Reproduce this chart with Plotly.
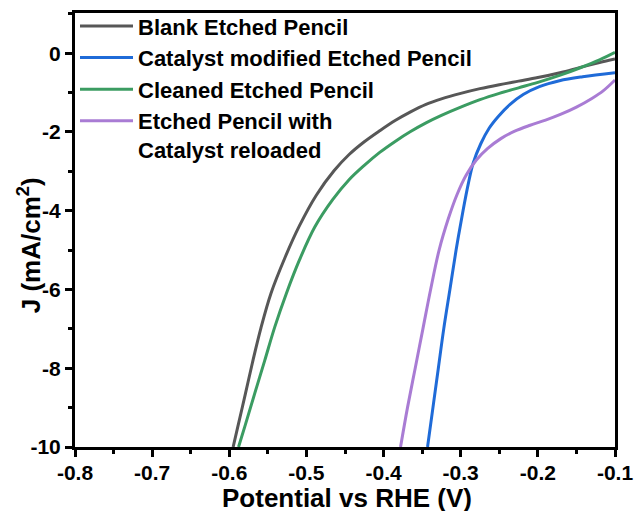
import plotly.graph_objects as go

# ---- data ----
blank_v = [-0.595, -0.589, -0.579, -0.570, -0.559, -0.546, -0.528, -0.509, -0.487, -0.464,
           -0.445, -0.425, -0.405, -0.385, -0.365, -0.345, -0.325, -0.300, -0.275, -0.250,
           -0.225, -0.200, -0.170, -0.145, -0.120, -0.100]
blank_j = [-10.0, -9.49, -8.64, -7.86, -6.98, -6.10, -5.20, -4.38, -3.60, -2.98,
           -2.58, -2.25, -1.97, -1.71, -1.49, -1.30, -1.16, -1.02, -0.90, -0.80,
           -0.71, -0.62, -0.49, -0.36, -0.24, -0.15]

cat_v = [-0.343, -0.336, -0.329, -0.322, -0.314, -0.306, -0.297, -0.290, -0.284, -0.274,
         -0.263, -0.251, -0.236, -0.219, -0.198, -0.172, -0.142, -0.100]
cat_j = [-10.0, -9.0, -8.0, -7.0, -6.0, -5.0, -4.0, -3.3, -2.8, -2.3,
         -1.9, -1.6, -1.3, -1.05, -0.85, -0.70, -0.60, -0.50]

clean_v = [-0.588, -0.580, -0.567, -0.554, -0.541, -0.526, -0.509, -0.489, -0.466, -0.445,
           -0.425, -0.405, -0.385, -0.365, -0.345, -0.325, -0.300, -0.275, -0.250, -0.225,
           -0.200, -0.170, -0.145, -0.120, -0.100]
clean_j = [-10.0, -9.49, -8.64, -7.80, -6.95, -6.10, -5.25, -4.41, -3.72, -3.22,
           -2.85, -2.52, -2.24, -1.99, -1.77, -1.58, -1.37, -1.18, -1.02, -0.88,
           -0.74, -0.55, -0.37, -0.17, 0.02]

reload_v = [-0.378, -0.369, -0.359, -0.349, -0.339, -0.328, -0.316, -0.305, -0.293, -0.280,
            -0.265, -0.248, -0.230, -0.210, -0.190, -0.170, -0.150, -0.130, -0.115, -0.100]
reload_j = [-10.0, -9.0, -8.0, -7.0, -6.0, -5.0, -4.2, -3.6, -3.1, -2.72,
            -2.42, -2.17, -1.98, -1.83, -1.70, -1.55, -1.37, -1.15, -0.95, -0.68]

names = ["Blank Etched Pencil", "Catalyst modified Etched Pencil",
         "Cleaned Etched Pencil", "Etched Pencil with<br>Catalyst reloaded"]
colors = ["#575757", "#1f6bd8", "#3b9c62", "#a97cd4"]

x_ticks = [-0.8, -0.7, -0.6, -0.5, -0.4, -0.3, -0.2, -0.1]
x_labels = ["-0.8", "-0.7", "-0.6", "-0.5", "-0.4", "-0.3", "-0.2", "-0.1"]
y_ticks = [0, -2, -4, -6, -8, -10]
y_labels = ["0", "-2", "-4", "-6", "-8", "-10"]
x_title = "Potential vs RHE (V)"
y_title = "J (mA/cm<sup>2</sup>)"

FONT = "Liberation Sans, Arial, sans-serif"

fig = go.Figure()
for xs, ys, nm, c in zip([blank_v, cat_v, clean_v, reload_v],
                         [blank_j, cat_j, clean_j, reload_j], names, colors):
    fig.add_trace(go.Scatter(x=xs, y=ys, mode="lines", name=nm,
                             line=dict(color=c, width=3, shape="spline", smoothing=1.0)))

axis_common = dict(
    showgrid=False, zeroline=False, showline=True, linecolor="black", linewidth=3,
    mirror=True, ticks="outside", ticklen=7, tickwidth=2.5, tickcolor="black",
    automargin=False,
    tickfont=dict(family=FONT, size=21, color="black", weight="bold"),
)

fig.update_xaxes(range=[-0.8, -0.1], tickvals=x_ticks, ticktext=x_labels,
                 ticklabelstandoff=-2,
                 minor=dict(ticks="outside", dtick=0.05, tick0=-0.8, ticklen=4,
                            tickwidth=2.5, tickcolor="black"),
                 **axis_common)
fig.update_yaxes(range=[-10, 1.02], tickvals=y_ticks, ticktext=y_labels,
                 minor=dict(ticks="outside", dtick=1, tick0=0, ticklen=4,
                            tickwidth=2.5, tickcolor="black"),
                 **axis_common)

title_font = dict(family=FONT, size=26, color="black", weight="bold")
fig.add_annotation(text=x_title, xref="paper", yref="paper",
                   x=0.503, y=-0.1521, xanchor="center", yanchor="bottom",
                   height=26, valign="middle",
                   showarrow=False, font=title_font)
fig.add_annotation(text=y_title, textangle=-90, xref="paper", yref="paper",
                   x=-0.085, y=0.465, xanchor="center", yanchor="middle",
                   showarrow=False, font=title_font)

fig.update_layout(
    width=634, height=513,
    margin=dict(l=75, r=19, t=13, b=66, autoexpand=False),
    paper_bgcolor="white", plot_bgcolor="white",
    legend=dict(x=0, y=1.018, xanchor="left", yanchor="top", bgcolor="rgba(0,0,0,0)",
                borderwidth=0, itemwidth=53, valign="top", tracegroupgap=0,
                font=dict(family=FONT, size=22, color="black", weight="bold")),
)

fig.write_html("out.html")
